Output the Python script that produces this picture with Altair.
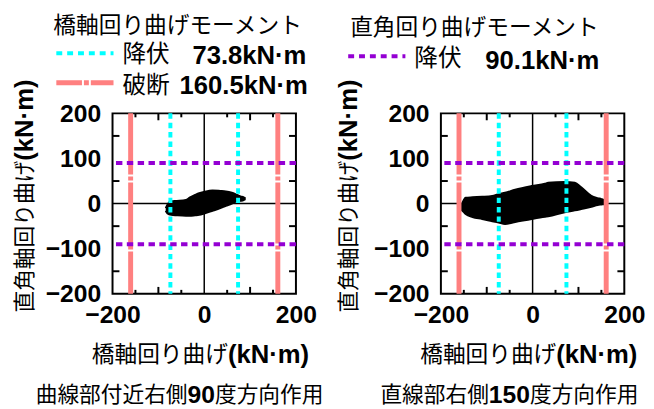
import altair as alt
import pandas as pd

# ---------------- data ----------------
x_labels = [-200, 0, 200]
y_labels = [-200, -100, 0, 100, 200]
x_major_ticks = [-100, 100]
x_minor_ticks = [-150, -50, 50, 150]
y_ticks = [-150, -50, 50, 150]
zero = [0]

yield_bridge = [-73.8, 73.8]      # 橋軸回り 降伏
break_bridge = [-160.5, 160.5]    # 橋軸回り 破断
yield_perp = [-90.1, 90.1]        # 直角回り 降伏

# hysteresis envelope, panel 1 (曲線部付近右側90度方向作用)
p1_x = [-84, -80, -72, -60, -40, -32, -20, -11, 0, 18, 35, 47, 60, 68, 79, 86, 90]
p1_up = [-10, -2, 5, 6, 8, 13, 19, 23, 26, 29, 28, 27, 24, 21, 16, 14, 11]
p1_lo = [-16, -22, -25, -26, -27, -27, -26, -25, -22, -16, -10, -5, 0, 4, 6, 8, 10]

# hysteresis envelope, panel 2 (直線部右側150度方向作用)
p2_x = [-157, -150, -146, -131, -110, -88, -74, -60, -38, -2, 27, 34, 70, 92, 106, 128, 142, 150, 158, 164]
p2_up = [-8, 8, 13, 14, 15, 17, 21, 24, 31, 39, 44, 46, 48, 46, 36, 17, 12, 10, 7, 3]
p2_lo = [-12, -19, -23, -30, -34, -39, -42, -45, -41, -34, -29, -28, -19, -15, -12, -7, -3, -2, -1, 1]

legend_titles = ["橋軸回り曲げモーメント", "直角回り曲げモーメント"]
legend_yield = "降伏"
legend_break = "破断"
legend_values = ["73.8kN·m", "160.5kN·m", "90.1kN·m"]
y_title = ["直角軸回り曲げ", "(kN·m)"]
x_title = ["橋軸回り曲げ", "(kN·m)"]
captions = [["曲線部付近右側", "90", "度方向作用"], ["直線部右側", "150", "度方向作用"]]

# ---------------- style ----------------
W, H = 186, 183
JP = "Noto Sans CJK JP"
LAT = "Liberation Sans"
CYAN = "#00ffff"
RED = "#ff8080"
PURPLE = "#9400d3"

xs = alt.Scale(domain=[-200, 200], nice=False, zero=False)
ys = alt.Scale(domain=[-200, 200], nice=False, zero=False)
common_axis = dict(title=None, ticks=False, tickSize=0, domain=False, grid=False,
                   labelFont=LAT, labelFontSize=25, labelFontWeight="bold",
                   labelColor="black", labelFlush=False, labelOverlap=False, format="d")
AX = alt.Axis(values=x_labels, labelPadding=9, **common_axis)
AY = alt.Axis(values=y_labels, labelPadding=12, **common_axis)


def X(f):
    return alt.X(f, type="quantitative", scale=xs, axis=AX)


def Y(f):
    return alt.Y(f, type="quantitative", scale=ys, axis=AY)


def txt(s, x, y, size, font, weight="normal", align="left", angle=None):
    kw = dict(font=font, fontSize=size, fontWeight=weight, align=align,
              baseline="middle", color="black")
    if angle is not None:
        kw["angle"] = angle
    return alt.Chart(pd.DataFrame({"t": [s]})).mark_text(**kw).encode(
        text="t:N", x=alt.value(x), y=alt.value(y))


def vlines(vals, color, width, dash):
    return alt.Chart(pd.DataFrame({"v": vals})).mark_rule(
        color=color, strokeWidth=width, strokeDash=dash).encode(x=X("v"))


def hlines(vals, color, width, dash):
    return alt.Chart(pd.DataFrame({"v": vals})).mark_rule(
        color=color, strokeWidth=width, strokeDash=dash).encode(y=Y("v"))


def legend_line(x1, x2, y, color, width, dash):
    return alt.Chart(pd.DataFrame({"v": [0]})).mark_rule(
        color=color, strokeWidth=width, strokeDash=dash).encode(
        x=alt.value(x1), x2=alt.value(x2), y=alt.value(y))


def panel(bx, bu, bl, legend, ytx, caption, cap_center):
    blob_df = pd.DataFrame({"x": bx, "up": bu, "lo": bl})
    zero_v = alt.Chart(pd.DataFrame({"v": zero})).mark_rule(color="black", strokeWidth=1.5).encode(x=X("v"))
    zero_h = alt.Chart(pd.DataFrame({"v": zero})).mark_rule(color="black", strokeWidth=1.5).encode(y=Y("v"))
    blob = alt.Chart(blob_df).mark_area(color="black", opacity=1, interpolate="monotone").encode(
        x=X("x"), y=Y("up"), y2="lo")
    blob_edge_u = alt.Chart(blob_df).mark_line(color="black", strokeWidth=2, interpolate="monotone").encode(
        x=X("x"), y=Y("up"))
    blob_edge_l = alt.Chart(blob_df).mark_line(color="black", strokeWidth=2, interpolate="monotone").encode(
        x=X("x"), y=Y("lo"))
    reds = vlines(break_bridge, RED, 5, [62, 2, 4, 2])
    cyans = vlines(yield_bridge, CYAN, 4, [5.5, 4])
    purples = hlines(yield_perp, PURPLE, 4, [6.5, 4.5])
    tdf = pd.DataFrame({"v": y_ticks})
    ytl = alt.Chart(tdf).mark_rule(color="black", strokeWidth=2).encode(y=Y("v"), x=alt.value(0), x2=alt.value(7))
    ytr = alt.Chart(tdf).mark_rule(color="black", strokeWidth=2).encode(y=Y("v"), x=alt.value(W - 7), x2=alt.value(W))
    mdf = pd.DataFrame({"v": x_major_ticks})
    ndf = pd.DataFrame({"v": x_minor_ticks})
    xmb = alt.Chart(mdf).mark_rule(color="black", strokeWidth=2).encode(x=X("v"), y=alt.value(H - 7), y2=alt.value(H))
    xmt = alt.Chart(mdf).mark_rule(color="black", strokeWidth=2).encode(x=X("v"), y=alt.value(0), y2=alt.value(7))
    xnb = alt.Chart(ndf).mark_rule(color="black", strokeWidth=2).encode(x=X("v"), y=alt.value(H - 4), y2=alt.value(H))
    xnt = alt.Chart(ndf).mark_rule(color="black", strokeWidth=2).encode(x=X("v"), y=alt.value(0), y2=alt.value(4))

    # axis titles
    yjoint = 48
    yt1 = txt(y_title[0], ytx, yjoint, 22, JP, align="right", angle=270)
    yt2 = txt(y_title[1], ytx, yjoint, 26, LAT, weight="bold", align="left", angle=270)
    xjoint = 117
    xt1 = txt(x_title[0], xjoint, 245, 23, JP, align="right")
    xt2 = txt(x_title[1], xjoint, 245, 26, LAT, weight="bold", align="left")

    # caption
    n1 = len(caption[0]) * 22
    n2 = len(caption[1]) * 13.9
    n3 = len(caption[2]) * 22
    start = cap_center - (n1 + n2 + n3) / 2
    c1 = txt(caption[0], start + n1, 286, 22, JP, align="right")
    c2 = txt(caption[1], start + n1, 286, 25, LAT, weight="bold", align="left")
    c3 = txt(caption[2], start + n1 + n2, 286, 22, JP, align="left")

    layers = [zero_v, zero_h, blob, blob_edge_u, blob_edge_l, reds, cyans, purples,
              ytl, ytr, xmb, xmt, xnb, xnt, yt1, yt2, xt1, xt2, c1, c2, c3] + legend
    return alt.layer(*layers).properties(width=W, height=H)


legend1 = [
    txt(legend_titles[0], -60, -89, 23, JP),
    legend_line(-57, 1, -61, CYAN, 4, [6, 5]),
    txt(legend_yield, 10, -59, 24, JP),
    txt(legend_values[0], 81, -58, 26, LAT, weight="bold"),
    legend_line(-57, 1, -31, RED, 5, [26, 2, 5, 2, 60, 2]),
    txt(legend_break, 10, -28, 24, JP),
    txt(legend_values[1], 68, -28, 26, LAT, weight="bold"),
]
legend2 = [
    txt(legend_titles[1], -92, -86, 23, JP),
    legend_line(-94, -36, -58, PURPLE, 4, [6, 5]),
    txt(legend_yield, -27, -55, 24, JP),
    txt(legend_values[2], 45, -53, 26, LAT, weight="bold"),
]

p1 = panel(p1_x, p1_up, p1_lo, legend1, -89, captions[0], 68)
p2 = panel(p2_x, p2_up, p2_lo, legend2, -93, captions[1], 69.5)

chart = alt.hconcat(p1, p2, spacing=147, bounds="flush").properties(
    padding={"left": 3, "top": 3, "right": 0, "bottom": 0}
).configure_view(stroke="black", strokeWidth=2)

chart.save("out.html", embed_options={"renderer": "svg", "actions": False})
